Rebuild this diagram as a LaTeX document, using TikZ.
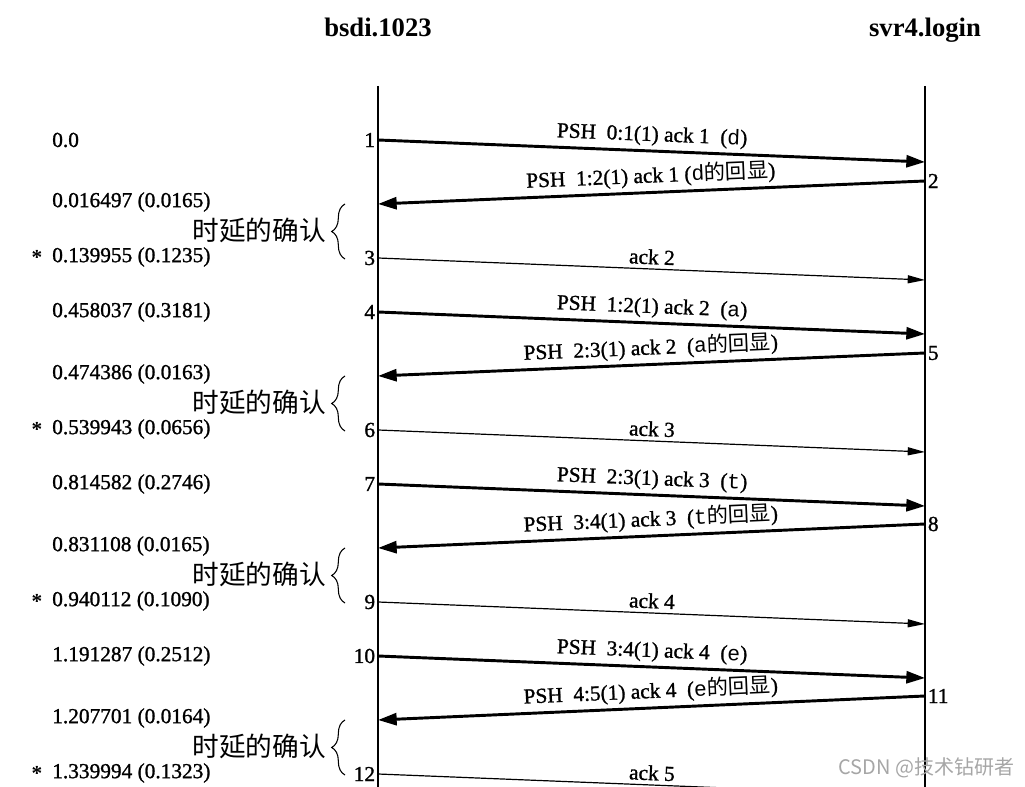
\documentclass[tikz,border=0pt]{standalone}
\usepackage{fontspec}
\setmainfont{Liberation Serif}
\setmonofont{Liberation Mono}
\newfontfamily\scanfont[FakeBold=1.2]{Liberation Serif}
\newfontfamily\cjk{Noto Sans CJK SC}
\usepackage{tikz}
\usetikzlibrary{arrows.meta, positioning, decorations.pathreplacing}
\newcommand{\echoof}[1]{(\texttt{#1}{\cjk 的回显})}
\tikzset{
    host/.style={anchor=base, inner sep=0pt, font=\fontsize{20}{24}\selectfont\bfseries},
    lifeline/.style={draw, line width=1.1pt},
    stamp/.style={anchor=west, inner sep=0pt, font=\scanfont\fontsize{16}{19}\selectfont},
    star/.style={inner sep=0pt, font=\fontsize{16}{19}\selectfont\bfseries},
    seqno/.style={inner sep=2pt, font=\scanfont\fontsize{16}{19}\selectfont},
    segment/.style={draw, line width=2.2pt, -{Triangle[length=14pt, width=9pt]}},
    acksegment/.style={draw, line width=0.9pt, -{Triangle[length=13pt, width=6pt]}},
    seglabel/.style={sloped, above, inner sep=3pt, font=\scanfont\fontsize{16}{19}\selectfont},
    delaynote/.style={anchor=east, inner sep=0pt, font=\cjk\fontsize{20}{24}\selectfont},
    delaybrace/.style={draw, line width=0.8pt, decorate, decoration={brace, amplitude=10pt}},
    watermark/.style={anchor=west, inner sep=0pt, text=gray!70, font=\cjk\fontsize{15}{18}\selectfont}
}

\begin{document}
\begin{tikzpicture}[x=0.75pt, y=-0.75pt]

        \clip (0,0) rectangle (1025,787);

        % hosts and time lines
        \node [host] (bsdi) at (378,37) {bsdi.1023};
        \node [host] (svr) at (925,37) {svr4.login};
        \coordinate (bsdiTop) at (378,86);
        \coordinate (bsdiEnd) at (378,800);
        \coordinate (svrTop) at (925,86);
        \coordinate (svrEnd) at (925,800);
        \draw [lifeline] (bsdiTop) -- (bsdiEnd);
        \draw [lifeline] (svrTop) -- (svrEnd);

        % segment end points
        \coordinate (L1) at (378,140);  \coordinate (R1) at (925,162);
        \coordinate (R2) at (925,181);  \coordinate (L2) at (378,204);
        \coordinate (L3) at (378,258);  \coordinate (R3) at (925,280);
        \coordinate (L4) at (378,312);  \coordinate (R4) at (925,334);
        \coordinate (R5) at (925,353);  \coordinate (L5) at (378,376);
        \coordinate (L6) at (378,430);  \coordinate (R6) at (925,452);
        \coordinate (L7) at (378,484);  \coordinate (R7) at (925,506);
        \coordinate (R8) at (925,524);  \coordinate (L8) at (378,548);
        \coordinate (L9) at (378,602);  \coordinate (R9) at (925,624);
        \coordinate (L10) at (378,656); \coordinate (R10) at (925,678);
        \coordinate (R11) at (925,696); \coordinate (L11) at (378,720);
        \coordinate (L12) at (378,774); \coordinate (R12) at (925,796);

        % segment numbers
        \node [seqno, left] (n1) at (L1) {1};
        \node [seqno, right] (n2) at (R2) {2};
        \node [seqno, left] (n3) at (L3) {3};
        \node [seqno, left] (n4) at (L4) {4};
        \node [seqno, right] (n5) at (R5) {5};
        \node [seqno, left] (n6) at (L6) {6};
        \node [seqno, left] (n7) at (L7) {7};
        \node [seqno, right] (n8) at (R8) {8};
        \node [seqno, left] (n9) at (L9) {9};
        \node [seqno, left] (n10) at (L10) {10};
        \node [seqno, right] (n11) at (R11) {11};
        \node [seqno, left] (n12) at (L12) {12};

        % time stamps
        \node [stamp] (t1) at (52,140) {0.0};
        \node [stamp] (t2) at (52,202) {0.016497 (0.0165)};
        \node [stamp] (t3) at (52,257) {0.139955 (0.1235)};
        \node [stamp] (t4) at (52,312) {0.458037 (0.3181)};
        \node [stamp] (t5) at (52,374) {0.474386 (0.0163)};
        \node [stamp] (t6) at (52,429) {0.539943 (0.0656)};
        \node [stamp] (t7) at (52,484) {0.814582 (0.2746)};
        \node [stamp] (t8) at (52,546) {0.831108 (0.0165)};
        \node [stamp] (t9) at (52,601) {0.940112 (0.1090)};
        \node [stamp] (t10) at (52,656) {1.191287 (0.2512)};
        \node [stamp] (t11) at (52,718) {1.207701 (0.0164)};
        \node [stamp] (t12) at (52,773) {1.339994 (0.1323)};
        \node [star, left=7pt of t3] (s3) {*};
        \node [star, left=7pt of t6] (s6) {*};
        \node [star, left=7pt of t9] (s9) {*};
        \node [star, left=7pt of t12] (s12) {*};

        % delayed acks
        \node [delaynote] (d1) at (326,230) {时延的确认};
        \node [delaynote] (d2) at (326,402) {时延的确认};
        \node [delaynote] (d3) at (326,574) {时延的确认};
        \node [delaynote] (d4) at (326,746) {时延的确认};
        \draw [delaybrace] (345,259) -- (345,204);
        \draw [delaybrace] (345,431) -- (345,376);
        \draw [delaybrace] (345,603) -- (345,548);
        \draw [delaybrace] (345,775) -- (345,720);

        % segments
        \draw [segment] (L1) -- node [seglabel] {PSH\ \ 0:1(1) ack 1\ \ (\texttt{d})} (R1);
        \draw [segment] (R2) -- node [seglabel] {PSH\ \ 1:2(1) ack 1 \echoof{d}} (L2);
        \draw [acksegment] (L3) -- node [seglabel] {ack 2} (R3);
        \draw [segment] (L4) -- node [seglabel] {PSH\ \ 1:2(1) ack 2\ \ (\texttt{a})} (R4);
        \draw [segment] (R5) -- node [seglabel] {PSH\ \ 2:3(1) ack 2\ \ \echoof{a}} (L5);
        \draw [acksegment] (L6) -- node [seglabel] {ack 3} (R6);
        \draw [segment] (L7) -- node [seglabel] {PSH\ \ 2:3(1) ack 3\ \ (\texttt{t})} (R7);
        \draw [segment] (R8) -- node [seglabel] {PSH\ \ 3:4(1) ack 3\ \ \echoof{t}} (L8);
        \draw [acksegment] (L9) -- node [seglabel] {ack 4} (R9);
        \draw [segment] (L10) -- node [seglabel] {PSH\ \ 3:4(1) ack 4\ \ (\texttt{e})} (R10);
        \draw [segment] (R11) -- node [seglabel] {PSH\ \ 4:5(1) ack 4\ \ \echoof{e}} (L11);
        \draw [acksegment] (L12) -- node [seglabel] {ack 5} (R12);

        \node [watermark] (mark) at (838,768) {CSDN @技术钻研者};

    \end{tikzpicture}
\end{document}
